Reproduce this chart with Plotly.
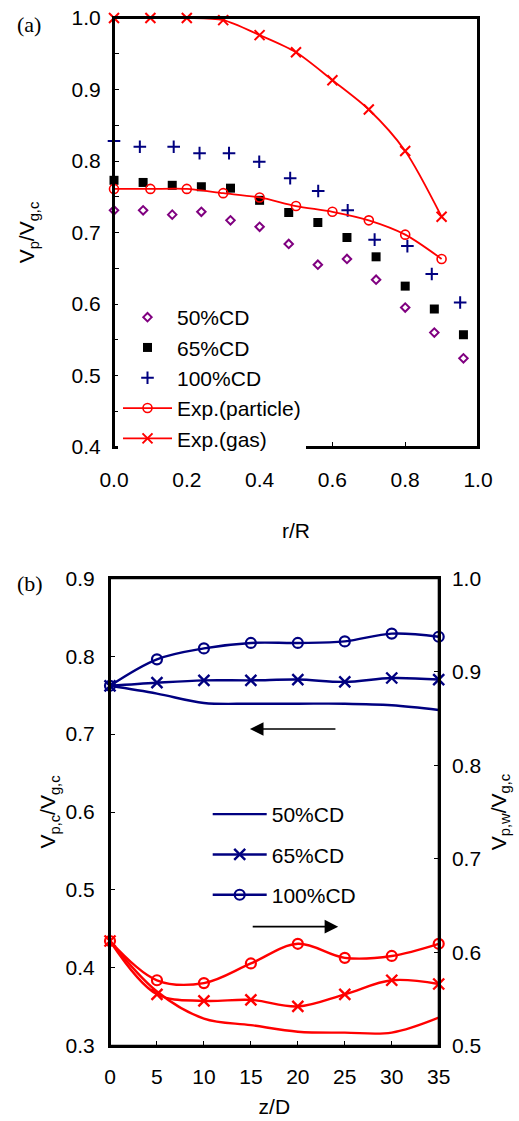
import plotly.graph_objects as go

# ---------------- data: panel (a) ----------------
r_cd = [0.0, 0.08, 0.16, 0.24, 0.32, 0.40, 0.48, 0.56, 0.64, 0.72, 0.80, 0.88, 0.96]
r_cd100 = [0.0, 0.071, 0.164, 0.235, 0.316, 0.399, 0.484, 0.561, 0.642, 0.716, 0.806, 0.873, 0.951]
cd50 = [0.731, 0.731, 0.725, 0.729, 0.717, 0.708, 0.684, 0.655, 0.663, 0.634, 0.595, 0.560, 0.524]
cd65 = [0.773, 0.770, 0.766, 0.764, 0.762, 0.745, 0.728, 0.714, 0.693, 0.666, 0.625, 0.593, 0.557]
cd100 = [0.828, 0.820, 0.820, 0.811, 0.811, 0.799, 0.776, 0.758, 0.731, 0.690, 0.681, 0.642, 0.602]
r_exp = [0.0, 0.1, 0.2, 0.3, 0.4, 0.5, 0.6, 0.7, 0.8, 0.9]
exp_particle = [0.761, 0.761, 0.761, 0.755, 0.749, 0.737, 0.729, 0.717, 0.697, 0.663]
exp_gas = [1.0, 1.0, 1.0, 0.997, 0.976, 0.952, 0.913, 0.872, 0.814, 0.722]

# ---------------- data: panel (b) ----------------
zD = [0, 5, 10, 15, 20, 25, 30, 35]
c50 = [0.762, 0.752, 0.740, 0.739, 0.739, 0.739, 0.737, 0.731]
c65 = [0.762, 0.766, 0.769, 0.769, 0.770, 0.767, 0.772, 0.770]
c100 = [0.762, 0.796, 0.810, 0.817, 0.817, 0.819, 0.829, 0.825]
w50 = [0.612, 0.558, 0.529, 0.522, 0.515, 0.514, 0.514, 0.530]
w65 = [0.612, 0.555, 0.548, 0.549, 0.542, 0.555, 0.570, 0.566]
w100 = [0.612, 0.570, 0.567, 0.588, 0.609, 0.594, 0.596, 0.609]

W, H = 519, 1121
FONT = "Liberation Sans, Arial, sans-serif"
SERIF = "Liberation Serif, Times New Roman, serif"
RED = "#FF0000"
NAVY = "#000080"
PURPLE = "#800080"
FS = 21


def px_x(p):
    return p / W


def px_y(p):
    return 1 - p / H


fig = go.Figure()

# ---- panel (a) ----
fig.add_trace(go.Scatter(
    x=r_cd, y=cd50, mode="markers", name="50%CD", legend="legend",
    marker=dict(symbol="diamond-open", size=6.5, color=PURPLE, line=dict(width=2, color=PURPLE)),
    xaxis="x", yaxis="y", cliponaxis=False))
fig.add_trace(go.Scatter(
    x=r_cd, y=cd65, mode="markers", name="65%CD", legend="legend",
    marker=dict(symbol="square", size=9, color="black"),
    xaxis="x", yaxis="y", cliponaxis=False))
fig.add_trace(go.Scatter(
    x=r_cd100, y=cd100, mode="markers", name="100%CD", legend="legend",
    marker=dict(symbol="cross-thin", size=9, color=NAVY, line=dict(width=2, color=NAVY)),
    xaxis="x", yaxis="y", cliponaxis=False))
fig.add_trace(go.Scatter(
    x=r_exp, y=exp_particle, mode="lines+markers", name="Exp.(particle)", legend="legend",
    line=dict(color=RED, width=1.8, shape="spline", smoothing=0.8),
    marker=dict(symbol="circle-open", size=9, color=RED, line=dict(width=1.6, color=RED)),
    xaxis="x", yaxis="y", cliponaxis=False))
fig.add_trace(go.Scatter(
    x=r_exp, y=exp_gas, mode="lines+markers", name="Exp.(gas)", legend="legend",
    line=dict(color=RED, width=1.8, shape="spline", smoothing=0.8),
    marker=dict(symbol="x-thin", size=10, color=RED, line=dict(width=2, color=RED)),
    xaxis="x", yaxis="y", cliponaxis=False))

# ---- panel (b) ----
LW = 2.4
fig.add_trace(go.Scatter(
    x=zD, y=c50, mode="lines", name="50%CD", legend="legend2", legendgroup="g50",
    line=dict(color=NAVY, width=LW, shape="spline"),
    xaxis="x2", yaxis="y2", cliponaxis=False))
fig.add_trace(go.Scatter(
    x=zD, y=c65, mode="lines+markers", name="65%CD", legend="legend2", legendgroup="g65",
    line=dict(color=NAVY, width=LW, shape="spline"),
    marker=dict(symbol="x-thin", size=11, color=NAVY, line=dict(width=2.4, color=NAVY)),
    xaxis="x2", yaxis="y2", cliponaxis=False))
fig.add_trace(go.Scatter(
    x=zD, y=c100, mode="lines+markers", name="100%CD", legend="legend2", legendgroup="g100",
    line=dict(color=NAVY, width=LW, shape="spline"),
    marker=dict(symbol="circle-open", size=10, color=NAVY, line=dict(width=2.2, color=NAVY)),
    xaxis="x2", yaxis="y2", cliponaxis=False))
fig.add_trace(go.Scatter(
    x=zD, y=w50, mode="lines", name="50%CD (wall)", showlegend=False, legendgroup="g50",
    line=dict(color=RED, width=LW, shape="spline"),
    xaxis="x2", yaxis="y3", cliponaxis=False))
fig.add_trace(go.Scatter(
    x=zD, y=w65, mode="lines+markers", name="65%CD (wall)", showlegend=False, legendgroup="g65",
    line=dict(color=RED, width=LW, shape="spline"),
    marker=dict(symbol="x-thin", size=11, color=RED, line=dict(width=2.4, color=RED)),
    xaxis="x2", yaxis="y3", cliponaxis=False))
fig.add_trace(go.Scatter(
    x=zD, y=w100, mode="lines+markers", name="100%CD (wall)", showlegend=False, legendgroup="g100",
    line=dict(color=RED, width=LW, shape="spline"),
    marker=dict(symbol="circle-open", size=10, color=RED, line=dict(width=2.2, color=RED)),
    xaxis="x2", yaxis="y3", cliponaxis=False))

axis_common = dict(
    showline=True, linewidth=2, linecolor="black", showgrid=False, zeroline=False,
    ticks="inside", ticklen=5, tickwidth=1, tickcolor="black",
    tickfont=dict(size=FS, color="black", family=FONT),
)

fig.update_layout(
    width=W, height=H, autosize=False,
    margin=dict(l=0, r=0, t=0, b=0, pad=0, autoexpand=False),
    paper_bgcolor="white", plot_bgcolor="white",
    font=dict(family=FONT, size=FS, color="black"),
    xaxis=dict(axis_common, domain=[px_x(114), px_x(478)], anchor="y", range=[0, 1.0],
               dtick=0.2, tick0=0, tickformat=".1f", mirror=True, ticklabelstandoff=13,
               title=dict(text="r/R", font=dict(size=FS), standoff=33)),
    yaxis=dict(axis_common, domain=[px_y(447), px_y(18)], anchor="x", range=[0.4, 1.0],
               dtick=0.1, tick0=0.4, tickformat=".1f", mirror=True, ticklabelstandoff=7,
               minor=dict(dtick=0.05, ticks="inside", ticklen=5, tickcolor="black"),
               title=dict(text="V<sub>p</sub>/V<sub>g,c</sub>", font=dict(size=FS), standoff=31)),
    xaxis2=dict(axis_common, domain=[px_x(110), px_x(438.7)], anchor="y2", range=[0, 35],
                dtick=5, tick0=0, mirror=True, ticklabelstandoff=11,
                title=dict(text="z/D", font=dict(size=FS), standoff=12)),
    yaxis2=dict(axis_common, domain=[px_y(1045.7), px_y(578.3)], anchor="x2", range=[0.3, 0.9],
                dtick=0.1, tick0=0.3, tickformat=".1f", ticklabelstandoff=9,
                title=dict(text="V<sub>p,c</sub>/V<sub>g,c</sub>", font=dict(size=FS), standoff=4)),
    yaxis3=dict(axis_common, overlaying="y2", anchor="x2", side="right", range=[0.5, 1.0],
                dtick=0.1, tick0=0.5, tickformat=".1f", ticklabelstandoff=7,
                title=dict(text="V<sub>p,w</sub>/V<sub>g,c</sub>", font=dict(size=FS), standoff=11)),
    legend=dict(x=px_x(118), xanchor="left", y=px_y(297), yanchor="top",
                bgcolor="white", borderwidth=0, itemwidth=49,
                font=dict(size=FS, family=FONT, color="black")),
    legend2=dict(x=px_x(207.7), xanchor="left", y=px_y(794), yanchor="top",
                 bgcolor="rgba(0,0,0,0)", borderwidth=0, itemwidth=54,
                 traceorder="grouped", tracegroupgap=10,
                 font=dict(size=FS, family=FONT, color="black")),
)

# plot frames (boxes around both panels)
fig.add_shape(type="rect", xref="x domain", yref="y domain", x0=0, x1=1, y0=0, y1=1,
              line=dict(color="black", width=2), fillcolor="rgba(0,0,0,0)", layer="above")
fig.add_shape(type="rect", xref="x2 domain", yref="y2 domain", x0=0, x1=1, y0=0, y1=1,
              line=dict(color="black", width=2), fillcolor="rgba(0,0,0,0)", layer="above")

annotations = [
    dict(text="(a)", x=px_x(29), y=px_y(24), xref="paper", yref="paper",
         showarrow=False, font=dict(family=SERIF, size=22, color="black"),
         xanchor="center", yanchor="middle"),
    dict(text="(b)", x=px_x(30), y=px_y(583), xref="paper", yref="paper",
         showarrow=False, font=dict(family=SERIF, size=22, color="black"),
         xanchor="center", yanchor="middle"),
    # arrow pointing left (blue curves -> left axis)
    dict(x=14.9, y=0.7066, xref="x2", yref="y2", ax=87, ay=0, text="",
         showarrow=True, arrowhead=2, arrowsize=1.7, arrowwidth=1.6, arrowcolor="black"),
    # arrow pointing right (red curves -> right axis)
    dict(x=24.3, y=0.4528, xref="x2", yref="y2", ax=-87, ay=0, text="",
         showarrow=True, arrowhead=2, arrowsize=1.7, arrowwidth=1.6, arrowcolor="black"),
]
fig.update_layout(annotations=annotations)

fig.write_html("out.html")
